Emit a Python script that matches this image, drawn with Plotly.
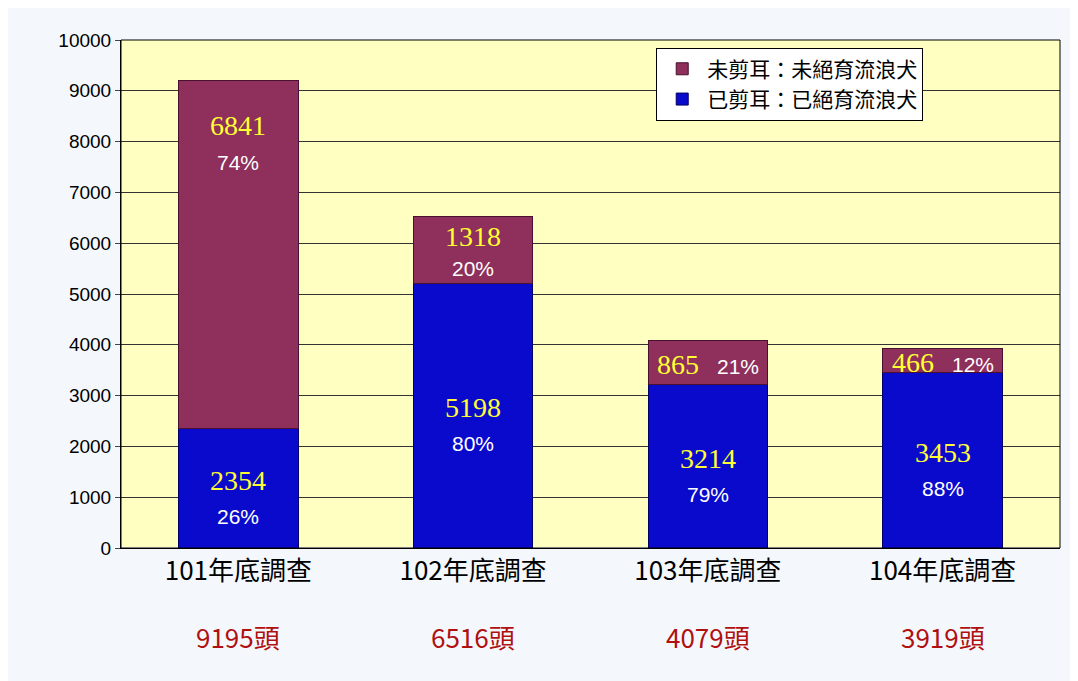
import plotly.graph_objects as go

years = ["101年底調查", "102年底調查", "103年底調查", "104年底調查"]
totals = ["9195頭", "6516頭", "4079頭", "3919頭"]
clipped = [2354, 5198, 3214, 3453]
unclipped = [6841, 1318, 865, 466]
clipped_pct = ["26%", "80%", "79%", "88%"]
unclipped_pct = ["74%", "20%", "21%", "12%"]

fig = go.Figure()
fig.add_trace(go.Bar(x=years, y=clipped, name="已剪耳：已絕育流浪犬",
                     marker=dict(color="#0A0ACC", line=dict(color="#000066", width=1)), width=0.51))
fig.add_trace(go.Bar(x=years, y=unclipped, name="未剪耳：未絕育流浪犬",
                     marker=dict(color="#8E2F5C", line=dict(color="#4A1030", width=1)), width=0.51))

num_font = dict(family="Liberation Serif", size=28, color="#FFFF33")
pct_font = dict(family="Liberation Sans", size=21, color="white")

for i, x in enumerate(years):
    c, u = clipped[i], unclipped[i]
    fig.add_annotation(x=x, y=c / 2, text=str(c), showarrow=False, font=num_font, yshift=8)
    fig.add_annotation(x=x, y=c / 2, text=clipped_pct[i], showarrow=False, font=pct_font, yshift=-28)
    if u > 2000:
        fig.add_annotation(x=x, y=c + u, text=str(u), showarrow=False, font=num_font, yshift=-45)
        fig.add_annotation(x=x, y=c + u, text=unclipped_pct[i], showarrow=False, font=pct_font, yshift=-82)
    elif u > 1000:
        fig.add_annotation(x=x, y=c + u, text=str(u), showarrow=False, font=num_font, yshift=-20)
        fig.add_annotation(x=x, y=c + u, text=unclipped_pct[i], showarrow=False, font=pct_font, yshift=-52)
    else:
        fig.add_annotation(x=x, y=c + u / 2, text=str(u), showarrow=False, font=num_font, xshift=-30, yshift=-2)
        fig.add_annotation(x=x, y=c + u / 2, text=unclipped_pct[i], showarrow=False, font=pct_font, xshift=30, yshift=-4)
    # total under the category label
    fig.add_annotation(x=x, y=0, yref="paper", yanchor="top", yshift=-68, text=totals[i],
                       showarrow=False, font=dict(family="Noto Sans CJK TC", size=26, color="#B01010"))

fig.update_layout(
    barmode="stack",
    width=1078, height=681,
    margin=dict(l=113, r=26, t=32, b=141),
    paper_bgcolor="#F4F8FC",
    plot_bgcolor="#FFFFC2",
    bargap=0.49,
    font=dict(family="Noto Sans CJK TC", color="black"),
    legend=dict(x=0.57, y=0.985, xanchor="left", yanchor="top", traceorder="reversed",
                bgcolor="white", bordercolor="black", borderwidth=1,
                font=dict(size=21, family="Noto Sans CJK TC"), itemwidth=40,
                tracegroupgap=18, entrywidth=340),
    showlegend=True,
)
fig.update_yaxes(range=[0, 10000], dtick=1000, tickformat="d", gridcolor="#333333", gridwidth=1,
                 showline=True, linecolor="black", ticks="outside", ticklen=5,
                 tickfont=dict(family="Liberation Sans", size=19, color="black"))
fig.update_xaxes(showline=True, linecolor="black",
                 tickfont=dict(family="Noto Sans CJK TC", size=26, color="black"))
fig.add_shape(type="rect", xref="paper", yref="paper", x0=0, x1=1, y0=0, y1=1,
              line=dict(color="black", width=1))

fig.write_html("out.html")
